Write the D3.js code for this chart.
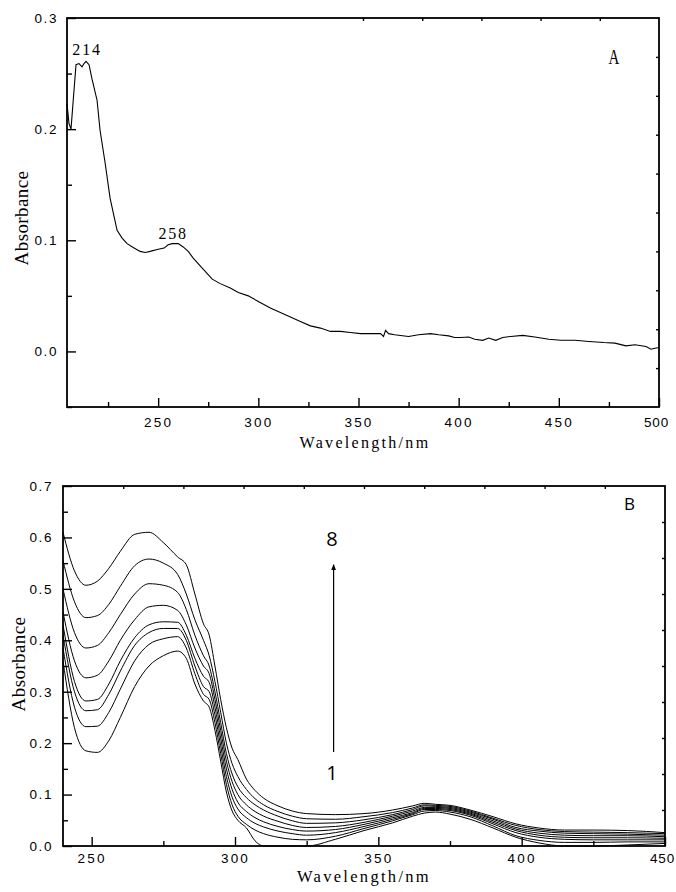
<!DOCTYPE html>
<html>
<head>
<meta charset="utf-8">
<script src="https://cdn.jsdelivr.net/npm/d3@7"></script>
<style>
  body { margin: 0; background: #fff; }
  svg { display: block; }
  .tick text { font-family: "Liberation Sans", Arial, sans-serif; font-size: 13.5px; fill: #000; }
  .xax .tick text { letter-spacing: 2.2px; }
  .yax .tick text { letter-spacing: 1.6px; }
  .domain { display: none; }
  .tick line { stroke: #000; stroke-width: 1.4px; }
</style>
</head>
<body>
<svg id="chart" width="676" height="892"></svg>
<script>
// ---- panel A: single spectrum ----
const waveA = [204.5, 205.5, 206.5, 208, 209, 210.5, 212, 213, 214, 215.5, 217, 219.5, 221, 223.5, 226, 229.5, 232, 234.5, 238, 241, 243.5, 246, 250, 253, 255, 257, 260, 262.5, 265, 267.5, 272, 277, 281, 286, 290, 295, 300, 306, 311, 316, 321, 326, 331, 336, 341, 346, 351, 356, 361, 362.5, 363.5, 365, 368, 371, 375, 380, 386, 390, 395, 398, 401, 405, 408, 412, 415, 418.5, 422, 426, 432, 438, 445, 451, 458, 465, 472.5, 478, 483.5, 488, 493.5, 496, 498, 500];
const absA  = [0.223, 0.205, 0.200, 0.235, 0.258, 0.259, 0.256, 0.259, 0.261, 0.258, 0.245, 0.226, 0.199, 0.17, 0.138, 0.109, 0.102, 0.097, 0.093, 0.090, 0.089, 0.090, 0.092, 0.093, 0.096, 0.097, 0.097, 0.094, 0.090, 0.084, 0.075, 0.065, 0.061, 0.057, 0.053, 0.050, 0.045, 0.039, 0.035, 0.031, 0.027, 0.023, 0.021, 0.018, 0.018, 0.017, 0.016, 0.016, 0.016, 0.0135, 0.019, 0.016, 0.015, 0.0144, 0.0135, 0.015, 0.016, 0.015, 0.014, 0.0126, 0.0126, 0.013, 0.011, 0.010, 0.012, 0.010, 0.0125, 0.0135, 0.0144, 0.013, 0.011, 0.010, 0.010, 0.009, 0.008, 0.0075, 0.005, 0.006, 0.0045, 0.002, 0.0028, 0.0036];
const xTicksA = [250, 300, 350, 400, 450, 500];
const xMinorA = [225, 275, 325, 375, 425, 475];
const yTicksA = [0.0, 0.1, 0.2, 0.3];
const yMinorA = [-0.05, 0.05, 0.15, 0.25];
const topTicksA = [352.25, 381.8, 411.35, 440.9, 470.45];
const rightTicksA = [0.265, 0.23, 0.195, 0.16, 0.125, 0.09, 0.055, 0.02, -0.015];
const peakLabelsA = [{ text: "214", wl: 214.5, v: 0.267 }, { text: "258", wl: 257.5, v: 0.101 }];

// ---- panel B: eight spectra, 1 (lowest) to 8 (highest) ----
const waveB = [240, 244, 248, 252, 256, 260, 265, 270, 275, 280, 283, 286, 289, 291, 293, 295, 297, 299, 301, 304, 307, 310, 315, 320, 325, 335, 345, 355, 362, 366, 370, 375, 382, 390, 398, 406, 415, 425, 437, 450];
const absB1 = [0.36, 0.23, 0.185, 0.182, 0.205, 0.25, 0.31, 0.35, 0.37, 0.379, 0.365, 0.315, 0.282, 0.27, 0.225, 0.165, 0.105, 0.068, 0.05, 0.035, 0.01, 0.0, 0.0, 0.0, 0.0, 0.013, 0.03, 0.045, 0.058, 0.064, 0.066, 0.062, 0.052, 0.035, 0.017, 0.006, 0.0, 0.0, 0.002, 0.005];
const absB2 = [0.385, 0.27, 0.232, 0.233, 0.26, 0.305, 0.36, 0.392, 0.403, 0.407, 0.385, 0.335, 0.295, 0.285, 0.24, 0.18, 0.12, 0.08, 0.058, 0.042, 0.031, 0.024, 0.017, 0.013, 0.012, 0.019, 0.034, 0.049, 0.061, 0.068, 0.069, 0.066, 0.057, 0.039, 0.02, 0.011, 0.007, 0.007, 0.008, 0.008];
const absB3 = [0.41, 0.30, 0.263, 0.265, 0.295, 0.34, 0.39, 0.415, 0.423, 0.423, 0.40, 0.35, 0.31, 0.30, 0.255, 0.195, 0.135, 0.095, 0.072, 0.055, 0.044, 0.037, 0.029, 0.024, 0.021, 0.026, 0.038, 0.052, 0.063, 0.071, 0.071, 0.069, 0.06, 0.043, 0.026, 0.017, 0.013, 0.012, 0.012, 0.012];
const absB4 = [0.43, 0.32, 0.282, 0.285, 0.315, 0.36, 0.405, 0.43, 0.436, 0.435, 0.41, 0.365, 0.33, 0.318, 0.27, 0.21, 0.15, 0.11, 0.085, 0.067, 0.055, 0.047, 0.038, 0.032, 0.029, 0.032, 0.042, 0.055, 0.065, 0.073, 0.073, 0.071, 0.062, 0.046, 0.03, 0.021, 0.017, 0.016, 0.016, 0.015];
const absB5 = [0.455, 0.36, 0.327, 0.332, 0.36, 0.40, 0.44, 0.465, 0.468, 0.458, 0.43, 0.385, 0.35, 0.335, 0.285, 0.225, 0.165, 0.125, 0.10, 0.08, 0.067, 0.058, 0.048, 0.04, 0.036, 0.038, 0.046, 0.058, 0.068, 0.075, 0.075, 0.073, 0.064, 0.049, 0.033, 0.025, 0.021, 0.02, 0.02, 0.018];
const absB6 = [0.50, 0.415, 0.385, 0.39, 0.415, 0.45, 0.49, 0.51, 0.507, 0.493, 0.46, 0.41, 0.37, 0.35, 0.30, 0.24, 0.18, 0.14, 0.115, 0.094, 0.08, 0.07, 0.058, 0.049, 0.044, 0.045, 0.051, 0.061, 0.071, 0.078, 0.077, 0.075, 0.066, 0.052, 0.036, 0.029, 0.025, 0.024, 0.023, 0.021];
const absB7 = [0.555, 0.475, 0.444, 0.448, 0.47, 0.505, 0.545, 0.558, 0.55, 0.528, 0.49, 0.44, 0.40, 0.37, 0.32, 0.26, 0.20, 0.16, 0.135, 0.11, 0.092, 0.08, 0.067, 0.058, 0.053, 0.052, 0.057, 0.065, 0.074, 0.08, 0.079, 0.077, 0.068, 0.054, 0.04, 0.032, 0.028, 0.027, 0.026, 0.024];
const absB8 = [0.61, 0.535, 0.507, 0.515, 0.54, 0.573, 0.606, 0.61, 0.59, 0.562, 0.547, 0.49, 0.432, 0.41, 0.35, 0.285, 0.23, 0.19, 0.168, 0.13, 0.108, 0.093, 0.078, 0.068, 0.063, 0.061, 0.063, 0.07, 0.078, 0.083, 0.081, 0.079, 0.07, 0.057, 0.043, 0.035, 0.031, 0.031, 0.03, 0.026];
const seriesB = [absB1, absB2, absB3, absB4, absB5, absB6, absB7, absB8];
const xTicksB = [250, 300, 350, 400, 450];
const xMinorB = [275, 325, 375, 425];
const yTicksB = [0.0, 0.1, 0.2, 0.3, 0.4, 0.5, 0.6, 0.7];
const yMinorB = [0.05, 0.15, 0.25, 0.35, 0.45, 0.55, 0.65];
const topTicksB = [261, 282, 303, 324, 345, 366, 387, 408, 429];
const rightTicksB = [0.07, 0.14, 0.21, 0.28, 0.35, 0.42, 0.49, 0.56, 0.63];

const svg = d3.select("#chart");
const fmt = d3.format(".1f");
const serif = "'Liberation Serif', 'Times New Roman', serif";

// draws frame, ticks and labels for one panel
function drawFrame(g, x, y, opt) {
  const [x0, x1] = x.range();
  const [yb, yt] = y.range();

  const xAxis = g.append("g")
    .attr("class", "xax")
    .attr("transform", `translate(0,${yb})`)
    .call(d3.axisBottom(x).tickValues(opt.xTicks).tickSize(-9).tickPadding(opt.xPad).tickFormat(d3.format("d")));
  // keep the last label inside the page
  xAxis.selectAll(".tick text")
    .filter(d => x(d) > 650)
    .attr("dx", -3).style("letter-spacing", "0.8px");
  g.append("g")
    .attr("transform", `translate(0,${yb})`)
    .call(d3.axisBottom(x).tickValues(opt.xMinor).tickSize(-5).tickFormat(""));
  g.append("g")
    .attr("class", "yax")
    .attr("transform", `translate(${x0},0)`)
    .call(d3.axisLeft(y).tickValues(opt.yTicks).tickSize(-9).tickPadding(opt.yPad).tickFormat(fmt));
  g.append("g")
    .attr("transform", `translate(${x0},0)`)
    .call(d3.axisLeft(y).tickValues(opt.yMinor).tickSize(-5).tickFormat(""));
  g.append("g")
    .attr("transform", `translate(0,${yt})`)
    .call(d3.axisTop(x).tickValues(opt.topTicks).tickSize(-3).tickFormat(""));
  g.append("g")
    .attr("transform", `translate(${x1},0)`)
    .call(d3.axisRight(y).tickValues(opt.rightTicks).tickSize(-3).tickFormat(""));

  g.append("rect")
    .attr("x", x0).attr("y", yt)
    .attr("width", x1 - x0).attr("height", yb - yt)
    .attr("fill", "none").attr("stroke", "#000").attr("stroke-width", 1.8);

  g.append("text")
    .attr("x", opt.xTitleX).attr("y", opt.xTitleY)
    .attr("text-anchor", "middle")
    .style("font-family", serif)
    .style("font-size", opt.xTitleSize).style("letter-spacing", "2.3px")
    .text("Wavelength/nm");
  g.append("text")
    .attr("transform", `translate(${opt.yTitleX},${opt.yTitleY}) rotate(-90)`)
    .attr("text-anchor", "middle")
    .style("font-family", serif)
    .style("font-size", "19px").style("letter-spacing", "0.4px")
    .text("Absorbance");
}

// ---------- panel A ----------
const xA = d3.scaleLinear().domain([204.5, 500]).range([67, 659]);
const yA = d3.scaleLinear().domain([-0.05, 0.3]).range([407, 18]);
const gA = svg.append("g");

gA.append("path")
  .datum(waveA.map((w, i) => [w, absA[i]]))
  .attr("fill", "none").attr("stroke", "#000").attr("stroke-width", 1.1)
  .attr("d", d3.line().x(d => xA(d[0])).y(d => yA(d[1])));

drawFrame(gA, xA, yA, {
  xTicks: xTicksA, xMinor: xMinorA, yTicks: yTicksA, yMinor: yMinorA,
  topTicks: topTicksA, rightTicks: rightTicksA, xPad: 10, yPad: 9,
  xTitleX: 365, xTitleY: 448, xTitleSize: "16px", yTitleX: 28, yTitleY: 218
});

gA.selectAll("text.peak")
  .data(peakLabelsA)
  .join("text")
  .attr("class", "peak")
  .attr("x", d => xA(d.wl)).attr("y", d => yA(d.v))
  .attr("text-anchor", "middle")
  .style("font-family", serif)
  .style("font-size", "16px").style("letter-spacing", "1.8px")
  .text(d => d.text);

gA.append("text")
  .attr("transform", `translate(${xA(477.5)},${yA(0.259)}) scale(0.75,1)`)
  .attr("text-anchor", "middle")
  .style("font-family", serif)
  .style("font-size", "20px")
  .text("A");

// ---------- panel B ----------
const xB = d3.scaleLinear().domain([240, 450]).range([63, 665]);
const yB = d3.scaleLinear().domain([0, 0.7]).range([846, 486]);
const gB = svg.append("g");

const lineB = d3.line().curve(d3.curveMonotoneX)
  .x((d, i) => xB(waveB[i])).y(d => yB(d));

gB.selectAll("path.spec")
  .data(seriesB)
  .join("path")
  .attr("class", "spec")
  .attr("fill", "none").attr("stroke", "#000").attr("stroke-width", 1)
  .attr("d", lineB);

drawFrame(gB, xB, yB, {
  xTicks: xTicksB, xMinor: xMinorB, yTicks: yTicksB, yMinor: yMinorB,
  topTicks: topTicksB, rightTicks: rightTicksB, xPad: 7, yPad: 10,
  xTitleX: 364, xTitleY: 882, xTitleSize: "16.5px", yTitleX: 25, yTitleY: 664
});

const sansLabel = "'Open Sans', 'Noto Sans', sans-serif";
gB.append("text")
  .attr("x", xB(437.6)).attr("y", 510)
  .attr("text-anchor", "middle")
  .style("font-family", sansLabel).style("font-size", "17px")
  .text("B");

// arrow 1 -> 8
svg.append("defs").append("marker")
  .attr("id", "head").attr("viewBox", "0 0 10 10")
  .attr("refX", 9).attr("refY", 5)
  .attr("markerWidth", 5).attr("markerHeight", 7)
  .attr("orient", "auto")
  .append("path").attr("d", "M0,1L10,5L0,9Z").attr("fill", "#000");

gB.append("line")
  .attr("x1", xB(334.4)).attr("x2", xB(334.4))
  .attr("y1", yB(0.183)).attr("y2", yB(0.547))
  .attr("stroke", "#000").attr("stroke-width", 1.2)
  .attr("marker-end", "url(#head)");

gB.append("text")
  .attr("x", xB(333.8)).attr("y", yB(0.583))
  .attr("text-anchor", "middle")
  .style("font-family", sansLabel).style("font-size", "20px")
  .text("8");
gB.append("text")
  .attr("x", xB(333.8)).attr("y", yB(0.128))
  .attr("text-anchor", "middle")
  .style("font-family", sansLabel).style("font-size", "20px")
  .text("1");
</script>
</body>
</html>
